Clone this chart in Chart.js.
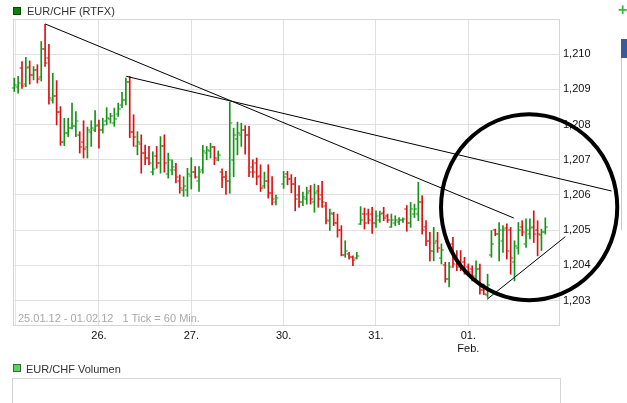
<!DOCTYPE html>
<html>
<head>
<meta charset="utf-8">
<title>EUR/CHF (RTFX)</title>
<script src="https://cdn.jsdelivr.net/npm/chart.js@4.4.0/dist/chart.umd.min.js"></script>
<style>
    html, body { margin: 0; padding: 0; background: #fff; }
    body { width: 627px; height: 403px; overflow: hidden; position: relative; font-family: "Liberation Sans", Arial, sans-serif; }
    #priceChart { position: absolute; left: 0; top: 0; }
    .caption { position: absolute; font-size: 11px; line-height: 13px; color: #333; white-space: pre; }
    .swatch { position: absolute; width: 6px; height: 6px; border: 1px solid #333; }
    .side { position: absolute; }
</style>
</head>
<body>
<canvas id="priceChart" width="627" height="403"></canvas>

<div class="swatch" style="left:13px;top:7px;background:#0b800b;border-color:#064806"></div>
<div class="caption" style="left:27px;top:5px">EUR/CHF (RTFX)</div>
<div class="caption" style="left:18px;top:312px;color:#a8a8a8">25.01.12 - 01.02.12   1 Tick = 60 Min.</div>

<div class="swatch" style="left:13px;top:364px;background:#5fcf5f;border-color:#2f6f2f"></div>
<div class="caption" style="left:26px;top:363px">EUR/CHF Volumen</div>
<div class="side" style="left:12px;top:378px;width:547px;height:40px;border:1px solid #d4d4d4"></div>

<div class="side" style="left:618px;top:1px;font-size:16px;font-weight:bold;color:#33bb33">+</div>
<div class="side" style="left:621px;top:39px;width:6px;height:19px;background:#3d5a98"></div>
<div class="side" style="left:621px;top:58px;width:6px;height:172px;border-left:1px solid #c8c8c8"></div>

<script>
// Cores das barras
const UP_COLOR = '#149414';
const DOWN_COLOR = '#dd1010';

// Valores horários (1 barra = 60 min), índice 0 = primeira barra do dia 25.01
// null = hora sem cotação
const opens = [
    1.20905, 1.20908, 1.20960, 1.20915, 1.20965, 1.20940, 1.20955, 1.20935, 1.21015, 1.20990,
    1.20870, 1.20880, 1.20835, 1.20750, 1.20775, 1.20790, 1.20795, 1.20770, 1.20750, 1.20735,
    1.20780, 1.20785, 1.20800, 1.20785, 1.20810, 1.20815, 1.20805, 1.20830, 1.20855, 1.20870,
    1.20920, 1.20780, 1.20740, 1.20745, 1.20720, 1.20705, 1.20665, 1.20710, 1.20690, 1.20740,
    1.20660, 1.20670, 1.20670, 1.20640, 1.20615, 1.20615, 1.20655, 1.20665, 1.20640, 1.20670,
    1.20720, 1.20725, 1.20735, 1.20700, 1.20665, 1.20650, 1.20640, 1.20700, 1.20760, 1.20770,
    1.20785, 1.20770, 1.20680, 1.20690, 1.20655, 1.20625, 1.20640, 1.20605, 1.20580, null,
    1.20630, 1.20660, 1.20645, 1.20630, 1.20600, 1.20580, 1.20590, 1.20610, 1.20580, 1.20610,
    1.20600, 1.20570, 1.20525, 1.20545, 1.20520, 1.20500, 1.20430, 1.20432, 1.20425, 1.20420,
    1.20518, 1.20545, 1.20545, 1.20545, 1.20520, 1.20530, 1.20550, 1.20540, 1.20510, 1.20520,
    1.20522, 1.20528, 1.20560, 1.20520, 1.20545, 1.20545, 1.20580, 1.20510, 1.20470, 1.20440,
    1.20470, 1.20420, 1.20400, 1.20360, 1.20460, 1.20420, 1.20410, 1.20410, 1.20395, 1.20390,
    1.20360, 1.20390, 1.20330, 1.20315, 1.20430, 1.20500, 1.20490, 1.20470, 1.20505, 1.20500,
    1.20410, 1.20450, 1.20510, 1.20460, 1.20490, 1.20510, 1.20500, 1.20485, 1.20495
];
const highs = [
    1.20932, 1.20937, 1.20979, 1.20991, 1.20981, 1.20965, 1.20970, 1.21036, 1.21085, 1.21028,
    1.20946, 1.20925, 1.20851, 1.20818, 1.20818, 1.20861, 1.20837, 1.20780, 1.20811, 1.20793,
    1.20811, 1.20840, 1.20813, 1.20818, 1.20848, 1.20832, 1.20847, 1.20861, 1.20892, 1.20932,
    1.20937, 1.20828, 1.20780, 1.20771, 1.20742, 1.20738, 1.20723, 1.20738, 1.20766, 1.20771,
    1.20719, 1.20700, 1.20690, 1.20657, 1.20652, 1.20676, 1.20706, 1.20681, 1.20681, 1.20741,
    1.20738, 1.20747, 1.20738, 1.20725, 1.20674, 1.20667, 1.20864, 1.20790, 1.20807, 1.20804,
    1.20797, 1.20795, 1.20700, 1.20705, 1.20686, 1.20665, 1.20686, 1.20652, 1.20600, null,
    1.20667, 1.20667, 1.20658, 1.20650, 1.20627, 1.20608, 1.20622, 1.20627, 1.20631, 1.20627,
    1.20639, 1.20579, 1.20560, 1.20551, 1.20546, 1.20513, 1.20470, 1.20437, 1.20427, 1.20437,
    1.20567, 1.20563, 1.20560, 1.20565, 1.20555, 1.20554, 1.20565, 1.20546, 1.20546, 1.20541,
    1.20536, 1.20535, 1.20570, 1.20579, 1.20574, 1.20636, 1.20598, 1.20527, 1.20494, 1.20508,
    1.20494, 1.20461, 1.20409, 1.20409, 1.20480, 1.20442, 1.20442, 1.20423, 1.20404, 1.20399,
    1.20413, 1.20404, 1.20347, 1.20375, 1.20499, 1.20503, 1.20522, 1.20513, 1.20518, 1.20508,
    1.20470, 1.20522, 1.20527, 1.20532, 1.20532, 1.20555, 1.20527, 1.20503, 1.20535
];
const lows = [
    1.20894, 1.20889, 1.20903, 1.20908, 1.20915, 1.20927, 1.20918, 1.20924, 1.20965, 1.20858,
    1.20861, 1.20799, 1.20741, 1.20740, 1.20766, 1.20788, 1.20766, 1.20719, 1.20705, 1.20705,
    1.20738, 1.20780, 1.20733, 1.20776, 1.20799, 1.20804, 1.20795, 1.20823, 1.20848, 1.20856,
    1.20763, 1.20738, 1.20714, 1.20662, 1.20686, 1.20686, 1.20657, 1.20676, 1.20662, 1.20665,
    1.20648, 1.20657, 1.20634, 1.20605, 1.20596, 1.20596, 1.20617, 1.20648, 1.20610, 1.20662,
    1.20700, 1.20705, 1.20686, 1.20697, 1.20621, 1.20602, 1.20605, 1.20652, 1.20714, 1.20738,
    1.20716, 1.20652, 1.20650, 1.20629, 1.20610, 1.20619, 1.20591, 1.20572, 1.20572, null,
    1.20619, 1.20629, 1.20606, 1.20555, 1.20565, 1.20570, 1.20574, 1.20574, 1.20551, 1.20565,
    1.20565, 1.20518, 1.20499, 1.20513, 1.20480, 1.20427, 1.20423, 1.20418, 1.20399, 1.20418,
    1.20516, 1.20503, 1.20518, 1.20491, 1.20508, 1.20522, 1.20527, 1.20522, 1.20508, 1.20513,
    1.20516, 1.20522, 1.20497, 1.20508, 1.20536, 1.20527, 1.20489, 1.20456, 1.20413, 1.20413,
    1.20437, 1.20404, 1.20352, 1.20339, 1.20394, 1.20385, 1.20385, 1.20375, 1.20371, 1.20356,
    1.20356, 1.20318, 1.20317, 1.20309, 1.20423, 1.20484, 1.20413, 1.20437, 1.20418, 1.20375,
    1.20356, 1.20432, 1.20484, 1.20451, 1.20475, 1.20465, 1.20427, 1.20442, 1.20489
];
const closes = [
    1.20912, 1.20918, 1.20910, 1.20960, 1.20940, 1.20955, 1.20930, 1.21015, 1.20975, 1.20875,
    1.20880, 1.20835, 1.20750, 1.20775, 1.20790, 1.20795, 1.20810, 1.20735, 1.20730, 1.20785,
    1.20790, 1.20795, 1.20785, 1.20800, 1.20820, 1.20825, 1.20815, 1.20845, 1.20870, 1.20920,
    1.20780, 1.20765, 1.20750, 1.20720, 1.20705, 1.20690, 1.20675, 1.20690, 1.20740, 1.20690,
    1.20700, 1.20680, 1.20650, 1.20620, 1.20625, 1.20660, 1.20665, 1.20650, 1.20665, 1.20725,
    1.20728, 1.20735, 1.20705, 1.20715, 1.20650, 1.20640, 1.20805, 1.20770, 1.20775, 1.20785,
    1.20770, 1.20665, 1.20665, 1.20650, 1.20620, 1.20640, 1.20605, 1.20590, 1.20592, null,
    1.20650, 1.20645, 1.20630, 1.20590, 1.20580, 1.20595, 1.20605, 1.20590, 1.20605, 1.20590,
    1.20580, 1.20530, 1.20550, 1.20520, 1.20500, 1.20430, 1.20440, 1.20425, 1.20415, 1.20428,
    1.20530, 1.20520, 1.20530, 1.20520, 1.20540, 1.20545, 1.20535, 1.20530, 1.20530, 1.20530,
    1.20530, 1.20532, 1.20520, 1.20560, 1.20560, 1.20580, 1.20500, 1.20470, 1.20440, 1.20465,
    1.20450, 1.20445, 1.20360, 1.20395, 1.20405, 1.20395, 1.20395, 1.20385, 1.20380, 1.20370,
    1.20390, 1.20330, 1.20320, 1.20345, 1.20460, 1.20490, 1.20500, 1.20500, 1.20440, 1.20420,
    1.20455, 1.20500, 1.20495, 1.20500, 1.20505, 1.20490, 1.20490, 1.20495, 1.20510
];

// Eixo X: início de cada dia (índice da barra) e rótulos
const dayTicks = [22, 46, 70, 94, 118];
const dayLabels = ['26.', '27.', '30.', '31.', ['01.', 'Feb.']];

// Eixo Y
const priceTicks = [1.203, 1.204, 1.205, 1.206, 1.207, 1.208, 1.209, 1.210];

// Linhas de tendência desenhadas pelo usuário: [índice, preço]
const trendLines = [
    [[8.05, 1.210858], [129.8, 1.205347]],
    [[29.09, 1.209372], [155.2, 1.206114]],
    [[122.86, 1.203037], [143.2, 1.204815]]
];

// Círculo de destaque (centro e raios em unidades dos eixos)
const markCircle = { x: 133.8, y: 1.205653, rx: 22.9, ry: 0.002642 };

// Monta as barras máxima/mínima
const hlBars = [];
const barColors = [];
for (let i = 0; i < highs.length; i++) {
    if (highs[i] === null) continue;
    hlBars.push({ x: i, y: [lows[i], highs[i]] });
    barColors.push(closes[i] >= opens[i] ? UP_COLOR : DOWN_COLOR);
}

const lineSets = trendLines.map(seg => ({
    type: 'line',
    data: seg.map(p => ({ x: p[0], y: p[1] })),
    borderColor: '#000',
    borderWidth: 1,
    pointRadius: 0,
    clip: false,
    order: 1
}));

// Traços de abertura (esquerda) e fechamento (direita)
const ohlcTicks = {
    id: 'ohlcTicks',
    afterDatasetDraw(chart, args) {
        if (args.index !== 0) return;
        const xScale = chart.scales.x;
        const yScale = chart.scales.y;
        const ctx = chart.ctx;
        ctx.save();
        for (let i = 0; i < highs.length; i++) {
            if (highs[i] === null) continue;
            const px = xScale.getPixelForValue(i);
            ctx.fillStyle = closes[i] >= opens[i] ? UP_COLOR : DOWN_COLOR;
            ctx.fillRect(px - 2.5, Math.round(yScale.getPixelForValue(opens[i])) - 0.5, 2, 1);
            ctx.fillRect(px + 0.5, Math.round(yScale.getPixelForValue(closes[i])) - 0.5, 2, 1);
        }
        ctx.restore();
    }
};

// Moldura da área do gráfico
const frame = {
    id: 'frame',
    beforeDatasetsDraw(chart) {
        const a = chart.chartArea;
        const ctx = chart.ctx;
        ctx.save();
        ctx.strokeStyle = '#d6d6d6';
        ctx.lineWidth = 1;
        ctx.strokeRect(a.left + 0.5, a.top + 0.5, a.right - a.left, a.bottom - a.top);
        ctx.beginPath();
        ctx.moveTo(a.left + 2.5, a.top);
        ctx.lineTo(a.left + 2.5, a.bottom);
        ctx.strokeStyle = '#e6e6e6';
        ctx.stroke();
        ctx.restore();
    }
};

// Círculo preto
const circlePlugin = {
    id: 'circleMark',
    afterDatasetsDraw(chart) {
        const xScale = chart.scales.x;
        const yScale = chart.scales.y;
        const cx = xScale.getPixelForValue(markCircle.x);
        const cy = yScale.getPixelForValue(markCircle.y);
        const rx = Math.abs(xScale.getPixelForValue(markCircle.x + markCircle.rx) - cx);
        const ry = Math.abs(yScale.getPixelForValue(markCircle.y + markCircle.ry) - cy);
        const ctx = chart.ctx;
        ctx.save();
        ctx.beginPath();
        ctx.ellipse(cx, cy, rx, ry, 0, 0, Math.PI * 2);
        ctx.lineWidth = 4;
        ctx.strokeStyle = '#000';
        ctx.stroke();
        ctx.restore();
    }
};

const tickFont = { family: '"Liberation Sans", Arial, sans-serif', size: 11 };

const priceCtx = document.getElementById('priceChart').getContext('2d');
const priceChart = new Chart(priceCtx, {
    type: 'bar',
    data: {
        datasets: [{
            data: hlBars,
            backgroundColor: barColors,
            barThickness: 1,
            borderWidth: 0,
            order: 2
        }, ...lineSets]
    },
    options: {
        responsive: false,
        animation: false,
        layout: { padding: { left: 13, top: 19, right: 0, bottom: 0 } },
        plugins: {
            legend: { display: false },
            tooltip: { enabled: false }
        },
        scales: {
            x: {
                type: 'linear',
                offset: false,
                min: -0.338,
                max: 141.56,
                afterBuildTicks: function(scale) {
                    scale.ticks = dayTicks.map(v => ({ value: v }));
                },
                afterFit: function(scale) { scale.height = 78; },
                ticks: {
                    autoSkip: false,
                    maxRotation: 0,
                    padding: 4,
                    color: '#111',
                    font: tickFont,
                    callback: function(value) {
                        const i = dayTicks.indexOf(value);
                        return i >= 0 ? dayLabels[i] : '';
                    }
                },
                grid: { color: '#e0e0e0', drawTicks: false, offset: false },
                border: { display: true, color: '#d6d6d6' }
            },
            y: {
                position: 'right',
                min: 1.2023068,
                max: 1.211,
                afterBuildTicks: function(scale) {
                    scale.ticks = priceTicks.map(v => ({ value: v }));
                },
                afterFit: function(scale) { scale.width = 68; },
                ticks: {
                    padding: 4,
                    color: '#111',
                    font: tickFont,
                    callback: function(value) {
                        return value.toFixed(3).replace('.', ',');
                    }
                },
                grid: { color: '#e0e0e0', drawTicks: false },
                border: { display: true, color: '#d6d6d6' }
            }
        }
    },
    plugins: [frame, ohlcTicks, circlePlugin]
});
</script>
</body>
</html>
